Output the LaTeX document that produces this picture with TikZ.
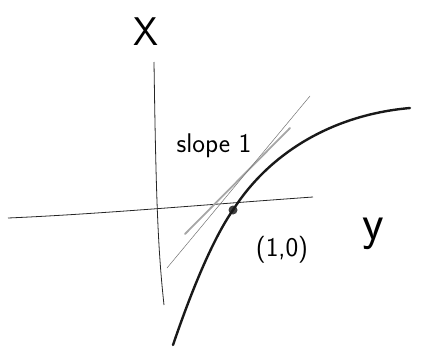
\documentclass[tikz,border=0pt]{standalone}
\usepackage{tikz}
\usetikzlibrary{positioning}

\begin{document}
\begin{tikzpicture}[x=1pt,y=-1pt,
  axisline/.style={line width=0.8pt,color=black!85},
  curveline/.style={line width=2.4pt,line cap=round,color=black!90},
  tangentline/.style={line width=0.5pt,color=black!55},
  shadeline/.style={line width=1.8pt,color=black!35,line cap=round},
  handlabel/.style={font=\sffamily\fontsize{27}{27}\selectfont,inner sep=1pt},
  bigletter/.style={font=\sffamily\fontsize{50}{50}\selectfont,inner sep=0pt}]
  \useasboundingbox (0,0) rectangle (427,351);
  % axes
  \coordinate (vtop) at (154,62);
  \coordinate (vbot) at (164,305);
  \coordinate (hleft) at (8,218);
  \coordinate (hright) at (313,197);
  \draw[axisline] (vtop) .. controls (156,200) and (158,250) .. (vbot);
  \draw[axisline] (hleft) .. controls (100,214) and (200,205) .. (hright);
  % tangent
  \coordinate (tlow) at (167,268);
  \coordinate (thigh) at (310,96);
  \coordinate (slow) at (185,234);
  \coordinate (shigh) at (290,128);
  \draw[shadeline] (slow) -- (shigh);
  \draw[tangentline] (tlow) -- (thigh);
  % point and curve
  \node[circle,fill=black!75,inner sep=0pt,minimum size=9pt] (pt) at (233,210) {};
  \coordinate (cstart) at (173,345);
  \coordinate (cend) at (410,108);
  \draw[curveline] (cstart) .. controls (190,295) and (212,240) .. (pt.center)
    .. controls (268,155) and (330,115) .. (cend);
  % labels
  \node[font=\sffamily\fontsize{40}{40}\selectfont,inner sep=0pt] (xlabel) at (146,32) {X};
  \node[bigletter] (ylabel) at (373,234) {y};
  \node[handlabel] (slopelabel) at (214,146) {slope 1};
  \node[handlabel] (pointlabel) at (282,250) {(1,0)};
\end{tikzpicture}
\end{document}
